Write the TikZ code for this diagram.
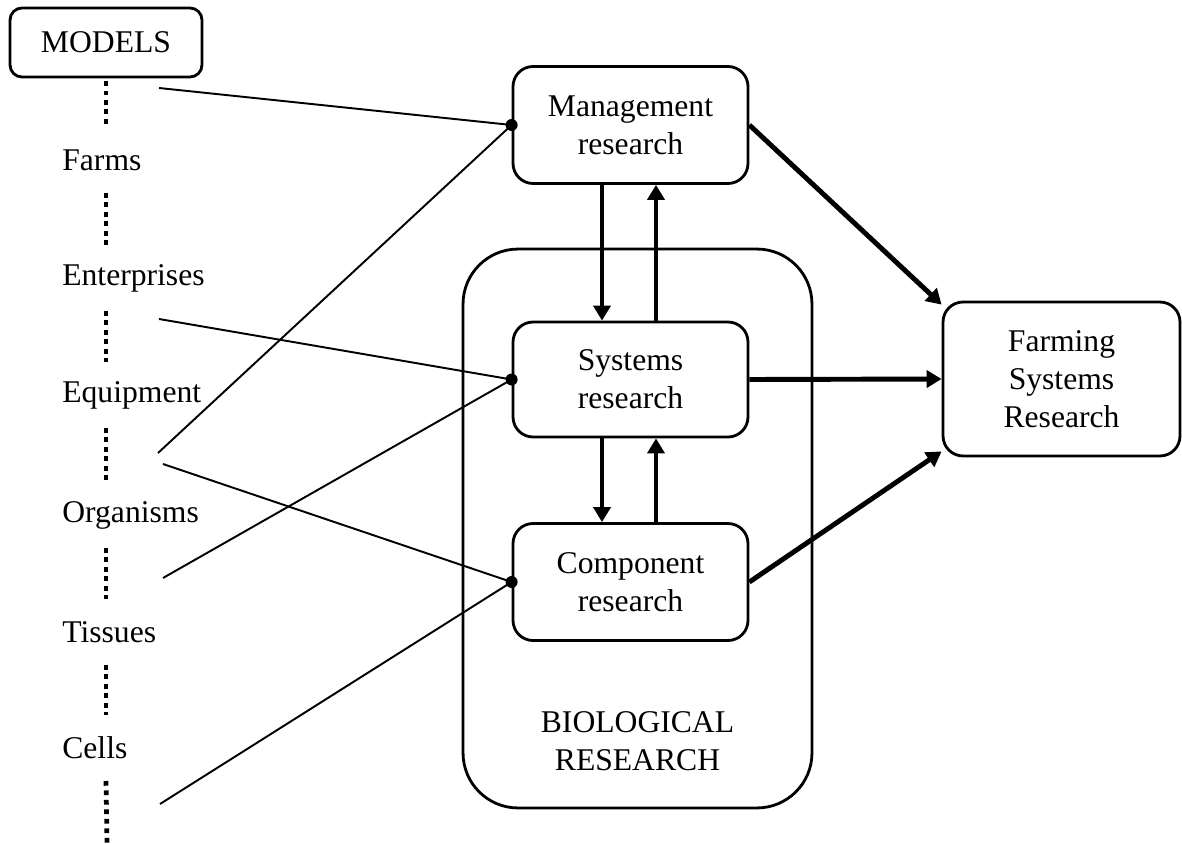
\documentclass[tikz,border=0pt]{standalone}
\usepackage{fontspec}
\setmainfont{Liberation Serif}
\usetikzlibrary{arrows.meta}

\tikzset{
  box/.style={draw, line width=1.6pt, rounded corners=0.4cm, align=center,
    minimum width=4.7cm, minimum height=2.34cm},
  level/.style={anchor=west, inner sep=0pt, minimum height=1.2cm},
  levdots/.style={line width=2.7pt, dash pattern=on 2.7pt off 2.7pt,
    shorten <=1.5pt, shorten >=1.5pt},
  link/.style={line width=1.1pt},
  flow/.style={line width=2.8pt, -{Triangle[length=0.3cm,width=0.34cm]}},
}

\begin{document}
\begin{tikzpicture}[x=0.02cm, y=-0.02cm, font=\fontsize{18}{21.5}\selectfont]
\useasboundingbox (0,0) rectangle (1182,844);

\node[box, rounded corners=0.24cm, minimum width=3.84cm, minimum height=1.38cm]
  (models) at (106,42.5) {MODELS};
\node[level] (farms) at (62,160) {Farms};
\node[level] (enterprises) at (62,278) {Enterprises};
\node[level] (equipment) at (62,395) {Equipment};
\node[level] (organisms) at (62,515) {Organisms};
\node[level] (tissues) at (62,632) {Tissues};
\node[level] (cells) at (62,748) {Cells};
\coordinate (bottom) at (107,844);

\node[box, rounded corners=1.1cm, minimum width=6.98cm, minimum height=11.18cm]
  (bio) at (637.5,528.5) {};
\node[align=center] (biolabel) at (637.5,741) {BIOLOGICAL\\RESEARCH};

\node[box] (mgmt) at (630.5,125) {Management\\research};
\node[box, minimum height=2.3cm] (sys) at (630.5,379.5) {Systems\\research};
\node[box] (comp) at (630.5,582) {Component\\research};
\node[box, minimum width=4.74cm, minimum height=3.08cm] (fsr) at (1061.5,379)
  {Farming\\Systems\\Research};

\draw[levdots] (models.south) -- (models.south |- farms.north);
\draw[levdots] (models.south |- farms.south) -- (models.south |- enterprises.north);
\draw[levdots] (models.south |- enterprises.south) -- (models.south |- equipment.north);
\draw[levdots] (models.south |- equipment.south) -- (models.south |- organisms.north);
\draw[levdots] (models.south |- organisms.south) -- (models.south |- tissues.north);
\draw[levdots] (models.south |- tissues.south) -- (models.south |- cells.north);
\draw[levdots, shorten >=0pt] (models.south |- cells.south) -- (bottom);

\coordinate (fromModels) at (159,88);
\coordinate (fromEnterprises) at (159,319);
\coordinate (fromEquipA) at (158,453);
\coordinate (fromEquipB) at (163,464);
\coordinate (fromOrganisms) at (163,578);
\coordinate (fromCells) at (160,804);

\draw[link] (fromModels) -- (mgmt.west);
\draw[link] (fromEquipA) -- (mgmt.west);
\draw[link] (fromEnterprises) -- (sys.west);
\draw[link] (fromOrganisms) -- (sys.west);
\draw[link] (fromEquipB) -- (comp.west);
\draw[link] (fromCells) -- (comp.west);
\foreach \n in {mgmt, sys, comp}
  \fill (\n.west) circle (0.12cm);

\draw[flow] ([xshift=-0.57cm]mgmt.south) -- ([xshift=-0.57cm]sys.north);
\draw[flow] ([xshift=0.51cm]sys.north) -- ([xshift=0.51cm]mgmt.south);
\draw[flow] ([xshift=-0.57cm]sys.south) -- ([xshift=-0.57cm]comp.north);
\draw[flow] ([xshift=0.51cm]comp.north) -- ([xshift=0.51cm]sys.south);

\draw[flow] (mgmt.east) -- ([yshift=-0.08cm]fsr.north west);
\draw[flow] (sys.east) -- (fsr.west);
\draw[flow] (comp.east) -- ([yshift=0.12cm]fsr.south west);
\end{tikzpicture}
\end{document}
